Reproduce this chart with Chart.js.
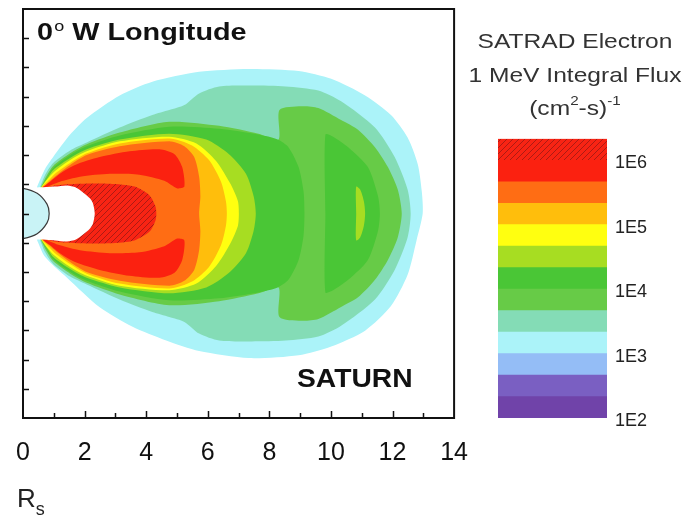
<!DOCTYPE html>
<html>
<head>
<meta charset="utf-8">
<script src="https://cdn.jsdelivr.net/npm/chart.js@4.4.0/dist/chart.umd.min.js"></script>
<style>
  body { margin: 0; width: 686px; height: 515px; background: #fff; position: relative; overflow: hidden;
         font-family: "Liberation Sans", Arial, sans-serif; }
  canvas { position: absolute; }
  #flux { left: 0; top: 0; }
  #scale { left: 460px; top: 120px; }
  .txt { position: absolute; line-height: 1; white-space: nowrap; color: #111; }
  #title { left: 37px; top: 20px; font-size: 24px; font-weight: bold; transform: scaleX(1.2); transform-origin: left top; }
  #title .deg { font-size: 15px; position: relative; top: -9px; margin-left: 1px; font-weight: normal; }
  #planet { left: 297px; top: 366px; font-size: 25px; font-weight: bold; transform: scaleX(1.13); transform-origin: left top; }
  .legend { left: 460px; width: 230px; text-align: center; font-size: 21px; color: #333; transform: scaleX(1.17); }
  .legend sup { font-size: 13px; position: relative; top: -2px; }
  #unit { left: 17px; top: 485px; font-size: 26px; color: #222; }
  #unit span { font-size: 18px; position: relative; top: 8px; }
</style>
</head>
<body>
<canvas id="flux" width="480" height="515"></canvas>
<canvas id="scale" width="226" height="320"></canvas>
<div class="txt" id="title">0<span class="deg">o</span> W Longitude</div>
<div class="txt" id="planet">SATURN</div>
<div class="txt legend" style="top:30px">SATRAD Electron</div>
<div class="txt legend" style="top:64px">1 MeV Integral Flux</div>
<div class="txt legend" style="top:96px">(cm<sup>2</sup>-s)<sup>-1</sup></div>
<div class="txt" id="unit">R<span>s</span></div>
<script>
// Flux contour levels (cm^-2 s^-1), three per decade, and the colour of each band
const fluxLevels = [100, 215, 464, 1000, 2150, 4640, 10000, 21500, 46400, 100000, 215000, 464000, 1000000, 2150000];
const bandColors = [
    '#7043a9', '#7a5fc2', '#94bdf6', '#abf3f9', '#84dcb6', '#67cb47',
    '#4ac636', '#a7dd22', '#ffff10', '#ffbe0c', '#ff6d14', '#fb2110', '#f82414'
];
const legendTickValues = [100, 1000, 10000, 100000, 1000000];
const legendTickLabels = ['1E2', '1E3', '1E4', '1E5', '1E6'];

// Contour outlines in Saturn radii, [x, y]; upper halves run from the planet out to the equator
const cyanUpper = [[0.46, 0.92], [0.72, 1.53], [0.98, 1.93], [1.53, 2.70], [2.07, 3.27], [3.14, 4.04],
    [4.20, 4.51], [5.72, 4.85], [7.33, 4.95], [8.95, 4.88], [10.01, 4.61], [11.11, 4.04], [11.95, 3.37],
    [12.49, 2.60], [12.82, 1.69], [12.95, 0.76], [12.98, 0]];
const cyanLower = [[0.46, -0.92], [0.72, -1.49], [1.43, -2.20], [2.49, -3.21], [3.56, -3.88], [4.65, -4.35],
    [5.72, -4.71], [7.33, -4.95], [8.95, -4.85], [10.01, -4.55], [11.11, -4.01], [11.95, -3.17],
    [12.49, -2.10], [12.78, -0.92], [12.98, 0]];
const tealUpper = [[0.56, 0.92], [0.72, 1.33], [0.98, 1.73], [1.53, 2.16], [2.07, 2.43], [3.14, 2.94],
    [4.20, 3.37], [4.75, 3.54], [5.24, 3.71], [5.72, 4.11], [6.37, 4.35], [7.43, 4.38], [8.53, 4.35],
    [9.59, 4.21], [10.33, 3.84], [11.43, 2.94], [12.07, 1.93], [12.49, 0.82], [12.59, 0]];
const lightGreenUpper = [[0.59, 0.92], [0.75, 1.26], [0.98, 1.63], [1.53, 2.06], [2.07, 2.37], [3.14, 2.77],
    [4.75, 3.14], [6.37, 3.00], [7.65, 2.73], [8.30, 2.53], [8.33, 3.54], [9.04, 3.67], [9.59, 3.61],
    [10.33, 3.20], [10.88, 2.87], [11.43, 2.27], [11.85, 1.59], [12.17, 0.82], [12.30, 0]];
const greenUpper = [[0.62, 0.92], [0.78, 1.22], [0.98, 1.56], [1.53, 2.00], [2.07, 2.30], [3.14, 2.67],
    [4.75, 2.97], [6.37, 2.90], [7.65, 2.70], [8.27, 2.53], [8.62, 2.27], [8.95, 1.59], [9.11, 0.76], [9.14, 0]];
const greenInnerUpper = [[9.82, 0], [9.82, 2.70], [10.07, 2.63], [10.56, 2.27], [11.20, 1.59], [11.53, 0.59], [11.59, 0]];
const sliverUpper = [[10.82, 0], [10.82, 0.92], [10.95, 0.82], [11.07, 0.42], [11.11, 0]];
const yellowGreenUpper = [[0.59, 0.89], [0.78, 1.19], [0.98, 1.49], [1.53, 1.90], [2.07, 2.20], [3.14, 2.53],
    [4.75, 2.73], [5.95, 2.53], [6.69, 2.03], [7.24, 1.36], [7.49, 0.59], [7.56, 0]];
const yellowUpper = [[0.59, 0.89], [0.78, 1.16], [1.01, 1.43], [1.53, 1.83], [2.07, 2.13], [3.14, 2.47],
    [4.75, 2.63], [5.63, 2.40], [6.27, 1.80], [6.75, 0.99], [6.98, 0.42], [7.01, 0]];
const goldUpper = [[0.56, 0.86], [0.82, 1.12], [1.04, 1.36], [1.53, 1.73], [2.07, 2.06], [3.14, 2.40],
    [4.75, 2.57], [5.49, 2.33], [6.04, 1.83], [6.43, 1.09], [6.59, 0.42], [6.62, 0]];
const orangeUpper = [[0.56, 0.82], [0.85, 1.09], [1.07, 1.29], [1.53, 1.66], [2.07, 2.00], [3.14, 2.30],
    [4.75, 2.47], [5.24, 2.30], [5.56, 1.93], [5.72, 1.26], [5.76, 0.59], [5.72, 0]];
const hornUpper = [[0.62, 0.89], [0.88, 1.09], [1.20, 1.36], [1.69, 1.66], [2.49, 1.93], [3.46, 2.13],
    [4.43, 2.20], [4.92, 2.03], [5.17, 1.59], [5.24, 0.92], [5.01, 0.86], [4.59, 1.12], [3.78, 1.33],
    [2.82, 1.36], [1.85, 1.26], [1.20, 1.09], [0.72, 0.89]];
const innerRedUpper = [[0.56, 0.82], [1.04, 0.96], [1.85, 1.02], [2.82, 1.02], [3.62, 0.92], [4.11, 0.62],
    [4.30, 0.25], [4.33, 0]];
const holeUpper = [[0, 0.89], [0.46, 0.89], [1.04, 0.92], [1.43, 0.96], [1.72, 0.89], [1.95, 0.72],
    [2.17, 0.52], [2.27, 0.35], [2.33, 0]];
const planetUpper = [[-0.3, 0.86], [0, 0.86], [0.46, 0.69], [0.78, 0.32], [0.85, 0]];

const xTickMinor = [1, 2, 3, 4, 5, 6, 7, 8, 9, 10, 11, 12, 13];
const yTickMinor = [-6, -5, -4, -3, -2, -1, 0, 1, 2, 3, 4, 5, 6];

// upper half + its reflection below the equator
function mirrored(upper) {
    const lower = upper.map(([x, y]) => [x, -y]).reverse();
    if (upper[upper.length - 1][1] === 0) lower.shift();
    return upper.concat(lower);
}

function flipped(pts) {
    return pts.map(([x, y]) => [x, -y]);
}

function makeHatch() {
    const c = document.createElement('canvas');
    c.width = 6; c.height = 6;
    const g = c.getContext('2d');
    g.fillStyle = bandColors[12];
    g.fillRect(0, 0, 6, 6);
    g.strokeStyle = 'rgba(110, 20, 20, 0.55)';
    g.lineWidth = 1;
    g.beginPath();
    g.moveTo(0, 6); g.lineTo(6, 0);
    g.moveTo(-3, 3); g.lineTo(3, -3);
    g.moveTo(3, 9); g.lineTo(9, 3);
    g.stroke();
    return g.createPattern(c, 'repeat');
}
const hatch = makeHatch();

const layers = [
    { pts: cyanUpper.concat(cyanLower.slice(0, -1).reverse()), color: bandColors[3] },
    { pts: mirrored(tealUpper), color: bandColors[4] },
    { pts: mirrored(lightGreenUpper), color: bandColors[5] },
    { pts: mirrored(greenUpper), color: bandColors[6] },
    { pts: mirrored(greenInnerUpper), color: bandColors[6] },
    { pts: mirrored(yellowGreenUpper), color: bandColors[7] },
    { pts: mirrored(sliverUpper), color: bandColors[7] },
    { pts: mirrored(yellowUpper), color: bandColors[8] },
    { pts: mirrored(goldUpper), color: bandColors[9] },
    { pts: mirrored(orangeUpper), color: bandColors[10] },
    { pts: hornUpper, color: bandColors[11] },
    { pts: flipped(hornUpper), color: bandColors[11] },
    { pts: mirrored(innerRedUpper), color: hatch },
    { pts: mirrored(holeUpper), color: '#ffffff' },
    { pts: mirrored(planetUpper), color: '#c9f3f6', border: '#3a3a3a' }
];

Chart.defaults.font.family = '"Liberation Sans", Arial, sans-serif';

// frame with inward tick marks
const framePlugin = {
    id: 'frame',
    afterDraw(chart) {
        const { ctx, chartArea: a, scales } = chart;
        ctx.save();
        ctx.strokeStyle = '#111';
        ctx.lineWidth = 1.5;
        ctx.beginPath();
        xTickMinor.forEach(v => {
            const px = Math.round(scales.x.getPixelForValue(v)) + 0.5;
            ctx.moveTo(px, a.bottom);
            ctx.lineTo(px, a.bottom - (v % 2 === 0 ? 7 : 5));
        });
        yTickMinor.forEach(v => {
            const py = Math.round(scales.y.getPixelForValue(v)) + 0.5;
            ctx.moveTo(a.left, py);
            ctx.lineTo(a.left + 6, py);
        });
        ctx.stroke();
        ctx.lineWidth = 2;
        ctx.strokeRect(a.left, a.top, a.right - a.left, a.bottom - a.top);
        ctx.restore();
    }
};

new Chart(document.getElementById('flux'), {
    type: 'line',
    data: {
        datasets: layers.map((l, i) => ({
            data: l.pts.map(([x, y]) => ({ x, y })),
            backgroundColor: l.color,
            borderColor: l.border || 'rgba(0,0,0,0)',
            borderWidth: l.border ? 1.2 : 0,
            fill: 'shape',
            pointRadius: 0,
            tension: 0.25,
            order: layers.length - i
        }))
    },
    options: {
        responsive: false,
        animation: false,
        events: [],
        layout: { padding: { left: 23, right: 23, top: 9, bottom: 35 } },
        plugins: { legend: { display: false }, tooltip: { enabled: false } },
        scales: {
            x: {
                type: 'linear', min: 0, max: 14,
                grid: { display: false }, border: { display: false },
                ticks: { stepSize: 2, padding: 12, color: '#111', font: { size: 25 } }
            },
            y: { type: 'linear', min: -7, max: 7, display: false }
        }
    },
    plugins: [framePlugin]
});

// colour bar
new Chart(document.getElementById('scale'), {
    type: 'bar',
    data: {
        labels: [''],
        datasets: bandColors.map((c, i) => ({
            data: [[fluxLevels[i], fluxLevels[i + 1]]],
            backgroundColor: i === 12 ? hatch : c,
            borderWidth: 0,
            barPercentage: 1,
            categoryPercentage: 1
        }))
    },
    options: {
        responsive: false,
        animation: false,
        events: [],
        layout: { padding: { left: 38, right: 0, top: 17, bottom: 22 } },
        plugins: { legend: { display: false }, tooltip: { enabled: false } },
        scales: {
            x: { display: false, stacked: true },
            y: {
                type: 'logarithmic', position: 'right',
                min: fluxLevels[0], max: fluxLevels[fluxLevels.length - 1],
                grid: { display: false, drawTicks: false }, border: { display: false },
                afterBuildTicks: s => { s.ticks = legendTickValues.map(v => ({ value: v })); },
                afterFit: s => { s.width = 79; },
                ticks: {
                    padding: 8, labelOffset: 3, color: '#222', font: { size: 18 },
                    callback: (v, i) => legendTickLabels[i]
                }
            }
        }
    }
});
</script>
</body>
</html>
